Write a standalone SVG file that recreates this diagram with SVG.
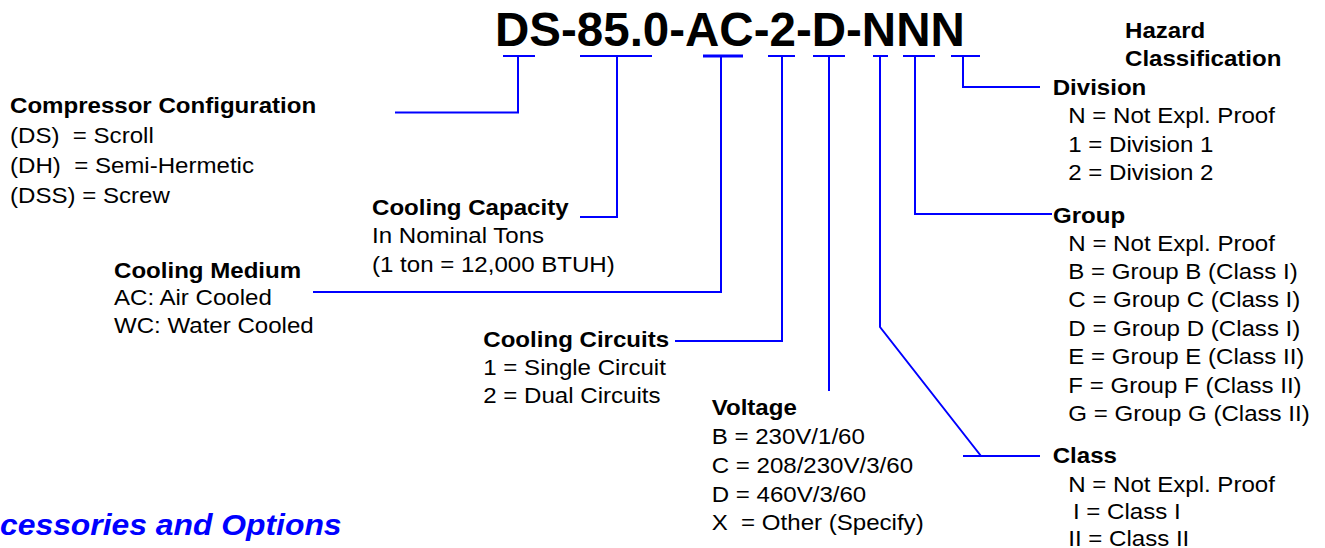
<svg xmlns="http://www.w3.org/2000/svg" width="1325" height="548" viewBox="0 0 1325 548" xml:space="preserve">
<style>
text { font-family: "Liberation Sans", Arial, sans-serif; font-size: 22.3px; fill: #000; white-space: pre; }
.b { font-weight: bold; }
.title { font-size: 47.5px; font-weight: bold; }
.acc { font-size: 29.5px; font-weight: bold; font-style: italic; fill: #0000ff; }
.ln { fill: none; stroke: #0000ff; stroke-width: 2; }
.thick { stroke-width: 3; }
</style>
<rect width="1325" height="548" fill="#fff"/>
<g id="title"><text class="title" x="495" y="45.5">DS-85.0-AC-2-D-NNN</text></g>
<g id="connectors">
  <path class="ln" d="M503 56H535M580 56H652M768 56H795M813 56H845M873 56H888M903 56H935M951 56H980"/>
  <path class="ln thick" d="M703 56H743"/>
  <polyline class="ln" points="518,56 518,112.5 395,112.5"/>
  <polyline class="ln" points="617,56 617,217 580,217"/>
  <polyline class="ln" points="721,56 721,292 313,292"/>
  <polyline class="ln" points="782,56 782,341 675,341"/>
  <polyline class="ln" points="829,56 829,391"/>
  <polyline class="ln" points="880,56 880,327 981,456"/>
  <polyline class="ln" points="963,456 1040,456"/>
  <polyline class="ln" points="915,56 915,214 1052,214"/>
  <polyline class="ln" points="963,56 963,87 1040,87"/>
</g>
<g id="compressor" transform="translate(10,112.7) scale(1.08,1)">
  <text class="b" x="0" y="0">Compressor Configuration</text>
  <text x="0" y="30.5">(DS)  = Scroll</text>
  <text x="0" y="60.5">(DH)  = Semi-Hermetic</text>
  <text x="0" y="90">(DSS) = Screw</text>
</g>
<g id="capacity" transform="translate(372,215) scale(1.08,1)">
  <text class="b" x="0" y="0">Cooling Capacity</text>
  <text x="0" y="28.2">In Nominal Tons</text>
  <text x="0" y="57.5">(1 ton = 12,000 BTUH)</text>
</g>
<g id="medium" transform="translate(114,278) scale(1.08,1)">
  <text class="b" x="0" y="0">Cooling Medium</text>
  <text x="0" y="27.5">AC: Air Cooled</text>
  <text x="0" y="55">WC: Water Cooled</text>
</g>
<g id="circuits" transform="translate(483.3,346.7) scale(1.08,1)">
  <text class="b" x="0" y="0">Cooling Circuits</text>
  <text x="0" y="28.3">1 = Single Circuit</text>
  <text x="0" y="56.3">2 = Dual Circuits</text>
</g>
<g id="voltage" transform="translate(711.7,415) scale(1.08,1)">
  <text class="b" x="0" y="0">Voltage</text>
  <text x="0" y="29">B = 230V/1/60</text>
  <text x="0" y="57.7">C = 208/230V/3/60</text>
  <text x="0" y="86.7">D = 460V/3/60</text>
  <text x="0" y="115">X  = Other (Specify)</text>
</g>
<g id="hazard" transform="translate(1125,38.3) scale(1.08,1)">
  <text class="b" x="0" y="0">Hazard</text>
  <text class="b" x="0" y="27.7">Classification</text>
</g>
<g id="division" transform="translate(1052.7,95) scale(1.08,1)">
  <text class="b" x="0" y="0">Division</text>
  <text x="14.4" y="28.3">N = Not Expl. Proof</text>
  <text x="14.4" y="56.7">1 = Division 1</text>
  <text x="14.4" y="85">2 = Division 2</text>
</g>
<g id="group" transform="translate(1053,223.3) scale(1.08,1)">
  <text class="b" x="0" y="0">Group</text>
  <text x="14.2" y="27.7">N = Not Expl. Proof</text>
  <text x="14.2" y="56">B = Group B (Class I)</text>
  <text x="14.2" y="84">C = Group C (Class I)</text>
  <text x="14.2" y="112.7">D = Group D (Class I)</text>
  <text x="14.2" y="141">E = Group E (Class II)</text>
  <text x="14.2" y="169.4">F = Group F (Class II)</text>
  <text x="14.2" y="197.4">G = Group G (Class II)</text>
</g>
<g id="class" transform="translate(1052.7,462.7) scale(1.08,1)">
  <text class="b" x="0" y="0">Class</text>
  <text x="14.4" y="29">N = Not Expl. Proof</text>
  <text x="18.8" y="56.6">I = Class I</text>
  <text x="14.4" y="83.3">II = Class II</text>
</g>
<g id="accessories" transform="translate(0,535) scale(1.08,1)"><text class="acc" x="0" y="0">cessories and Options</text></g>
</svg>
